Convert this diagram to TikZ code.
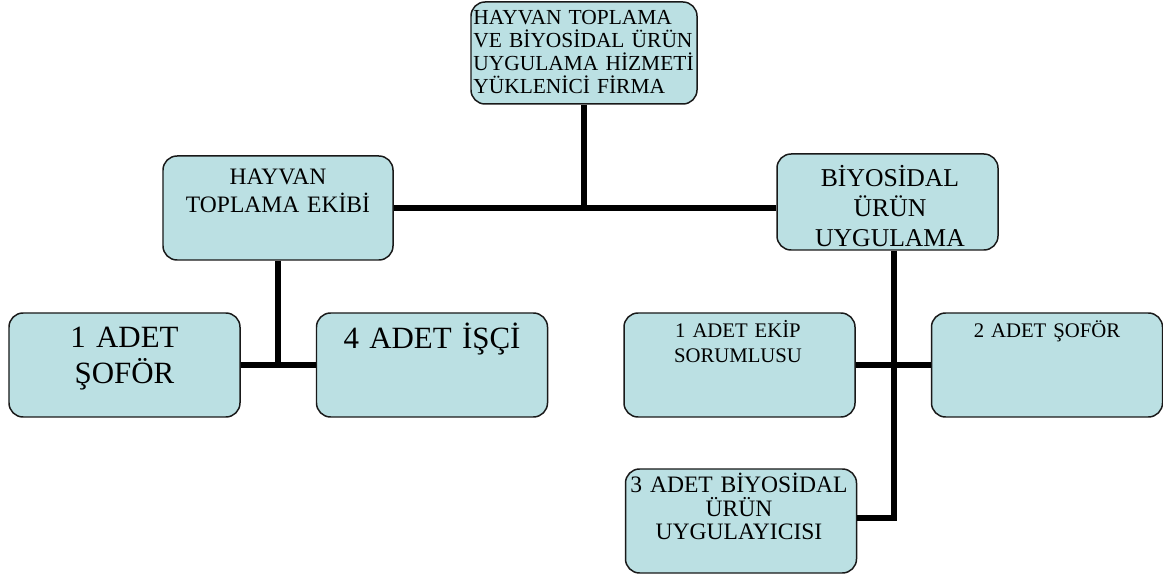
\documentclass[tikz,border=0pt]{standalone}
\usepackage{fontspec}
\setmainfont{Liberation Serif}
\usepackage{tikz}

\definecolor{boxfill}{RGB}{187,224,227}
\tikzset{
  box/.style={draw=black!90, line width=0.85pt, fill=boxfill, rounded corners=8pt,
    inner sep=0pt, minimum width=4.62cm, minimum height=2.08cm},
  txt/.style={inner sep=0pt, align=center, text width=4.4cm, anchor=base},
  link/.style={line width=3pt}
}

\begin{document}
\begin{tikzpicture}[x=0.2mm, y=-0.2mm]
\useasboundingbox (0,0) rectangle (1163,577);

\node [box, minimum width=4.52cm, minimum height=2.04cm] (firma) at (584,53) {};
\node [box, minimum width=4.6cm] (hayvan) at (278,208) {};
\node [box, minimum width=4.42cm, minimum height=1.92cm] (biyosidal) at (887.5,202) {};

\node [box] (sofor1) at (124.5,365) {};
\node [box] (isci) at (432,365) {};
\node [box] (ekip) at (739.5,365) {};
\node [box] (sofor2) at (1047,365) {};
\node [box] (uygulayici) at (741,521) {};

\node [txt, anchor=base west, align=left, text width=4.5cm,
  font=\fontsize{12.2}{12.9}\selectfont] (firma-t) at (473,25)
  {HAYVAN TOPLAMA\\VE BİYOSİDAL ÜRÜN\\UYGULAMA HİZMETİ\\YÜKLENİCİ FİRMA};
\node [txt, font=\fontsize{13.4}{15.9}\selectfont] (hayvan-t) at (278,185) {HAYVAN\\TOPLAMA EKİBİ};
\node [txt, font=\fontsize{14.6}{17}\selectfont] (biyosidal-t) at (890,187) {BİYOSİDAL\\ÜRÜN\\UYGULAMA};

\node [txt, font=\fontsize{17.6}{20.4}\selectfont] (sofor1-t) at (124.5,348) {1 ADET\\ŞOFÖR};
\node [txt, font=\fontsize{17.6}{20.4}\selectfont] (isci-t) at (432,349) {4 ADET İŞÇİ};
\node [txt, font=\fontsize{11.8}{14.2}\selectfont] (ekip-t) at (738,338) {1 ADET EKİP\\SORUMLUSU};
\node [txt, font=\fontsize{11.8}{14.2}\selectfont] (sofor2-t) at (1047,338) {2 ADET ŞOFÖR};
\node [txt, font=\fontsize{13.4}{13.2}\selectfont] (uygulayici-t) at (739,493) {3 ADET BİYOSİDAL\\ÜRÜN\\UYGULAYICISI};

\draw [link] (firma.south) -- (firma.south |- hayvan.east);
\draw [link] (hayvan.east) -- (hayvan.east -| biyosidal.west);
\draw [link] (hayvan.south) -- (hayvan.south |- sofor1.east);
\draw [link] (sofor1.east) -- (isci.west);

\coordinate (dal) at (894,518);
\draw [link] (biyosidal.south -| dal) -- (dal) -- (dal -| uygulayici.east);
\draw [link] (ekip.east) -- (sofor2.west);
\end{tikzpicture}
\end{document}
